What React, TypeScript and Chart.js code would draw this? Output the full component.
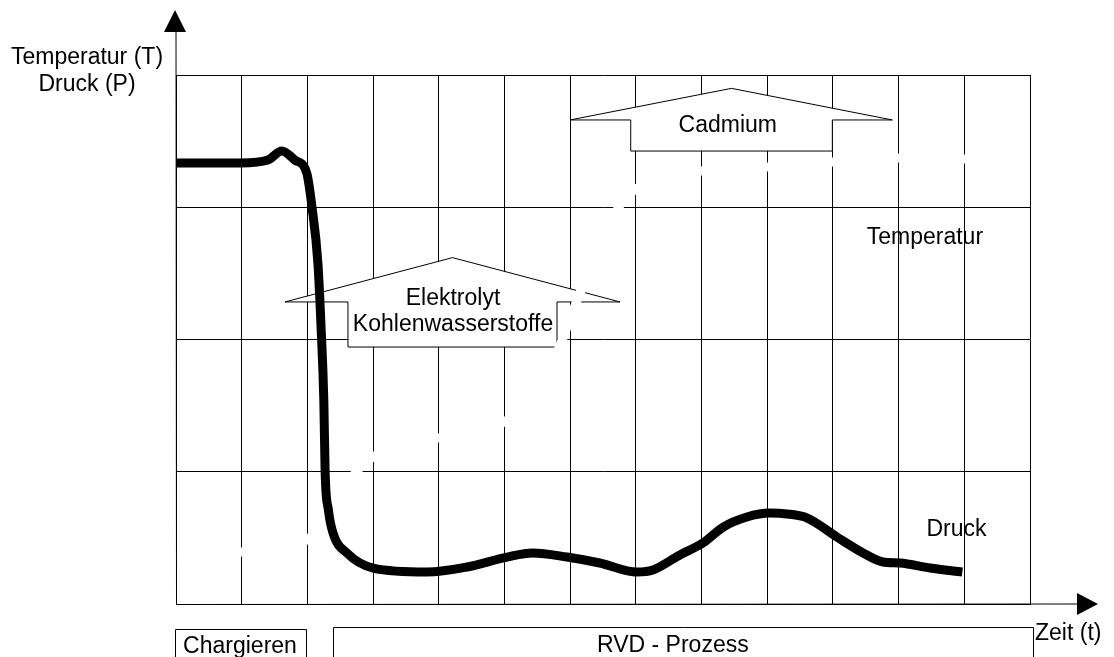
import React, { useEffect, useRef } from "react";
import { Chart, registerables } from "chart.js";

Chart.register(...registerables);

// Time axis (grid units) and values (grid units, 0..4)
const tempTime = [0, 0.99, 1.99, 2.34, 2.74, 3.0, 3.99, 4.99, 5.46, 5.88, 6.0, 6.73, 7.0, 7.99, 9.0, 10.0, 11.01, 12.01, 12.32];
const tempValue = [0.355, 0.393, 0.484, 0.696, 0.998, 1.112, 1.255, 1.376, 1.58, 1.996, 2.163, 2.994, 3.138, 3.274, 3.304, 3.342, 3.372, 3.365, 3.365];

const pressTime = [0, 0.99, 1.4, 1.61, 1.81, 1.99, 2.07, 2.16, 2.21, 2.25, 2.27, 2.32, 2.39, 2.6, 3.0, 3.82, 4.43, 5.04, 5.43, 5.95, 6.45, 7.02, 7.26, 7.67, 8.02, 8.33, 8.69, 9.04, 9.3, 9.61, 10.06, 10.46, 10.76, 11.02, 11.48, 11.97];
const pressValue = [3.335, 3.335, 3.357, 3.425, 3.357, 3.259, 3.002, 2.578, 2.072, 1.543, 0.998, 0.711, 0.537, 0.386, 0.272, 0.242, 0.28, 0.355, 0.386, 0.355, 0.31, 0.242, 0.257, 0.371, 0.461, 0.582, 0.658, 0.688, 0.681, 0.65, 0.507, 0.386, 0.318, 0.31, 0.272, 0.242];

const xMax = 13;
const yMax = 4;

const yAxisTitle = ["Temperatur (T)", "Druck (P)"];
const xAxisTitle = "Zeit (t)";
const phaseLabels = ["Chargieren", "RVD - Prozess"];
const seriesLabels = ["Temperatur", "Druck"];
const cadmiumLabel = ["Cadmium"];
const electrolyteLabel = ["Elektrolyt", "Kohlenwasserstoffe"];

const FONT = '23px "Liberation Sans", Arial, sans-serif';

function drawBlockArrow(ctx: CanvasRenderingContext2D, xs: any, ys: any, a: any) {
  const tipX = xs.getPixelForValue(a.tipX);
  const tipY = ys.getPixelForValue(a.tipY);
  const wl = xs.getPixelForValue(a.wingL);
  const wr = xs.getPixelForValue(a.wingR);
  const wy = ys.getPixelForValue(a.wingY);
  const bl = xs.getPixelForValue(a.bodyL);
  const br = xs.getPixelForValue(a.bodyR);
  const bb = ys.getPixelForValue(a.bodyB);
  ctx.save();
  ctx.beginPath();
  ctx.moveTo(tipX, tipY);
  ctx.lineTo(wr, wy);
  ctx.lineTo(br, wy);
  ctx.lineTo(br, bb);
  ctx.lineTo(bl, bb);
  ctx.lineTo(bl, wy);
  ctx.lineTo(wl, wy);
  ctx.closePath();
  ctx.fillStyle = "#fff";
  ctx.fill();
  ctx.strokeStyle = "#000";
  ctx.lineWidth = 1;
  ctx.stroke();
  ctx.fillStyle = "#000";
  ctx.font = FONT;
  ctx.textAlign = "center";
  ctx.textBaseline = "alphabetic";
  a.lines.forEach((t: string, i: number) => {
    ctx.fillText(t, xs.getPixelForValue(a.textX), ys.getPixelForValue(a.textY[i]));
  });
  ctx.restore();
}

const decorPlugin = {
  id: "decor",
  beforeDatasetsDraw(chart: any) {
    const ctx = chart.ctx;
    const xs = chart.scales.x;
    const ys = chart.scales.y;
    drawBlockArrow(ctx, xs, ys, {
      tipX: 8.456, tipY: 3.899, wingL: 5.998, wingR: 10.904, wingY: 3.66,
      bodyL: 6.922, bodyR: 9.991, bodyB: 3.425,
      lines: cadmiumLabel, textX: 8.4, textY: [3.569],
    });
    drawBlockArrow(ctx, xs, ys, {
      tipX: 4.209, tipY: 2.619, wingL: 1.659, wingR: 6.759, wingY: 2.284,
      bodyL: 2.618, bodyR: 5.8, bodyB: 1.943,
      lines: electrolyteLabel, textX: 4.217, textY: [2.261, 2.061],
    });
  },
  afterDraw(chart: any) {
    const ctx = chart.ctx;
    const xs = chart.scales.x;
    const ys = chart.scales.y;
    const area = chart.chartArea;
    const x0 = Math.round(area.left) + 0.5;
    const y0 = Math.round(area.bottom) + 0.5;
    ctx.save();
    ctx.strokeStyle = "#000";
    ctx.fillStyle = "#000";
    ctx.lineWidth = 1;
    // axes
    ctx.beginPath();
    ctx.moveTo(x0, y0);
    ctx.lineTo(x0 - 0.5, 30);
    ctx.moveTo(x0, y0);
    ctx.lineTo(1080, y0 - 0.5);
    ctx.stroke();
    // arrow heads
    ctx.beginPath();
    ctx.moveTo(175, 10);
    ctx.lineTo(164, 32);
    ctx.lineTo(186, 32);
    ctx.closePath();
    ctx.fill();
    ctx.beginPath();
    ctx.moveTo(1098, 604);
    ctx.lineTo(1077, 593);
    ctx.lineTo(1077, 615);
    ctx.closePath();
    ctx.fill();

    ctx.font = FONT;
    ctx.textBaseline = "alphabetic";
    ctx.textAlign = "center";
    ctx.fillText(yAxisTitle[0], 87, 64);
    ctx.fillText(yAxisTitle[1], 87, 91);
    ctx.textAlign = "left";
    ctx.fillText(xAxisTitle, 1035, 640);

    // series labels
    ctx.textAlign = "center";
    ctx.fillText(seriesLabels[0], xs.getPixelForValue(11.4), ys.getPixelForValue(2.722));
    ctx.fillText(seriesLabels[1], xs.getPixelForValue(11.88), ys.getPixelForValue(0.514));

    // phase boxes
    ctx.beginPath();
    ctx.rect(175.5, 629.5, 131, 40);
    ctx.rect(333.5, 627.5, 700, 40);
    ctx.stroke();
    ctx.textAlign = "center";
    ctx.fillText(phaseLabels[0], 240, 653);
    ctx.textAlign = "left";
    ctx.fillText(phaseLabels[1], 597, 652);
    ctx.restore();
  },
};

export default function App() {
  const ref = useRef<HTMLCanvasElement | null>(null);
  useEffect(() => {
    document.body.style.margin = "0";
    const canvas = ref.current;
    if (!canvas) return;
    const chart = new Chart(canvas, {
      type: "line",
      data: {
        datasets: [
          {
            label: seriesLabels[1],
            data: pressTime.map((t, i) => ({ x: t, y: pressValue[i] })),
            borderColor: "#000",
            borderWidth: 9,
            pointRadius: 0,
            cubicInterpolationMode: "monotone",
            borderJoinStyle: "round",
            fill: false,
            order: 0,
          },
          {
            label: seriesLabels[0],
            data: tempTime.map((t, i) => ({ x: t, y: tempValue[i] })),
            borderColor: "#fff",
            borderWidth: 9,
            pointRadius: 0,
            cubicInterpolationMode: "monotone",
            fill: false,
            order: 1,
          },
        ],
      },
      options: {
        responsive: false,
        animation: false,
        devicePixelRatio: 1,
        layout: { padding: { left: 176, right: 84, top: 75, bottom: 53 } },
        plugins: { legend: { display: false }, tooltip: { enabled: false } },
        scales: {
          x: {
            type: "linear",
            min: 0,
            max: xMax,
            ticks: { display: false, stepSize: 1 },
            grid: { color: "#000", lineWidth: 1, drawTicks: false },
            border: { display: true, color: "#000" },
          },
          y: {
            type: "linear",
            min: 0,
            max: yMax,
            ticks: { display: false, stepSize: 1 },
            grid: { color: "#000", lineWidth: 1, drawTicks: false },
            border: { display: true, color: "#000" },
          },
        },
      },
      plugins: [decorPlugin],
    } as any);
    return () => chart.destroy();
  }, []);
  return <canvas ref={ref} width={1114} height={657} style={{ display: "block" }} />;
}
